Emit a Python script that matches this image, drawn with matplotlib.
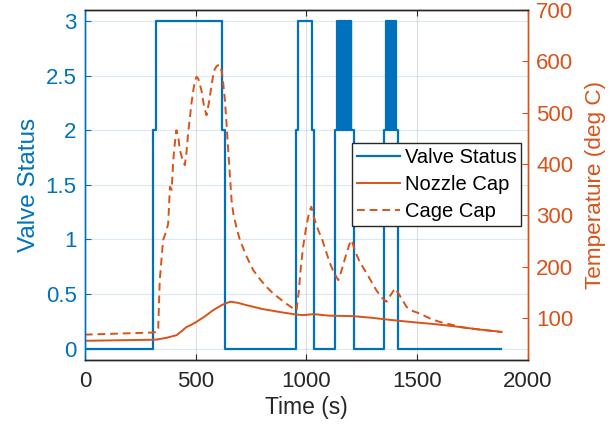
import numpy as np
import matplotlib
matplotlib.use("Agg")
import matplotlib.pyplot as plt

plt.rcParams['font.family'] = ['Liberation Sans', 'DejaVu Sans']

# valve status change points (steps-post)
valve_t = [0, 308, 322, 621, 632,
           952, 963, 1023, 1034,
           1129,
           1139, 1142, 1145, 1148, 1151, 1154, 1157, 1160, 1163, 1166, 1169,
           1172, 1175, 1178, 1181, 1184, 1187, 1190, 1193, 1196, 1199, 1202,
           1204, 1214,
           1350,
           1359, 1362, 1365, 1368, 1371, 1374, 1377, 1380, 1383, 1386, 1389,
           1392, 1395, 1398, 1401, 1404,
           1407, 1414, 1880]
valve_v = [0, 2, 3, 2, 0,
           2, 3, 2, 0,
           2,
           3, 2, 3, 2, 3, 2, 3, 2, 3, 2, 3,
           2, 3, 2, 3, 2, 3, 2, 3, 2, 3, 2,
           2, 0,
           2,
           3, 2, 3, 2, 3, 2, 3, 2, 3, 2, 3,
           2, 3, 2, 3, 2,
           2, 0, 0]

# nozzle cap temperature (deg C)
nozzle_t = [0, 150, 300, 325, 370, 414, 440, 459, 480, 504, 540, 579, 620,
            655, 690, 730, 800, 880, 955, 990, 1031, 1100, 1211, 1290, 1362,
            1440, 1512, 1590, 1663, 1780, 1881]
nozzle_v = [56, 57, 58, 58.5, 62, 67, 76, 83, 87, 93, 103, 115.6, 126,
            132, 130, 125.3, 118, 112, 107, 106, 108, 105, 104, 101, 97.5,
            94, 91, 88, 84.4, 78, 73.4]

# cage cap temperature (deg C)
cage_t = [0, 150, 300, 325, 331, 338, 353, 368, 376, 384, 392, 399, 406, 413,
          421, 429, 440, 451, 458, 466, 474, 481, 490, 497, 504, 512, 519, 526,
          537, 549, 560, 571, 580, 587, 598, 609, 618, 625, 632, 640, 647, 655,
          662, 670, 685, 700, 730, 760, 790, 820, 850, 880, 910, 940, 955, 965,
          975, 985, 1000, 1012, 1022, 1035, 1050, 1072, 1090, 1106, 1125, 1144,
          1160, 1180, 1195, 1204, 1220, 1240, 1271, 1295, 1316, 1340, 1362,
          1380, 1400, 1420, 1452, 1480, 1512, 1560, 1600, 1663, 1720, 1800, 1881]
cage_v = [68, 70, 72, 73, 80, 174, 252, 270, 284, 356, 350, 408, 440, 466,
          455, 427, 410, 398, 420, 460, 490, 518, 545, 562, 570, 566, 555, 544,
          515, 495, 520, 551, 575, 586, 592, 593, 580, 555, 525, 475, 427, 375,
          330, 304, 275, 252, 220, 193.5, 176, 161, 148, 138, 128, 119, 115, 150,
          200, 239, 280, 305, 317, 295, 275, 252, 228, 207, 188, 174,
          195, 225, 245, 252, 230, 210, 188, 170, 154, 140, 132,
          145, 158, 145, 122, 114, 109, 99, 93, 86.4, 81, 77, 73]

blue = '#0072BD'
orange = '#D95319'
dark = '#262626'

fig = plt.figure(figsize=(6.15, 4.26), dpi=100)
ax1 = fig.add_axes([0.138, 0.156, 0.7205, 0.8205])
ax2 = ax1.twinx()

l1, = ax1.plot(valve_t, valve_v, color=blue, lw=1.6, drawstyle='steps-post',
               label='Valve Status')
l2, = ax2.plot(nozzle_t, nozzle_v, color=orange, lw=1.4, label='Nozzle Cap')
l3, = ax2.plot(cage_t, cage_v, color=orange, lw=1.4, ls=(0, (4, 2.5)),
               label='Cage Cap')

ax1.set_xlim(0, 2000)
ax1.set_ylim(-0.1, 3.1)
ax2.set_ylim(19.5, 700)
ax1.set_xticks([0, 500, 1000, 1500, 2000])
ax1.set_yticks([0, 0.5, 1, 1.5, 2, 2.5, 3])
ax1.set_yticklabels(['0', '0.5', '1', '1.5', '2', '2.5', '3'])
ax2.set_yticks([100, 200, 300, 400, 500, 600, 700])

# grids: gray vertical, light blue horizontal
ax1.set_axisbelow(True)
ax1.grid(axis='x', color=dark, alpha=0.15, lw=0.8)
ax1.grid(axis='y', color=blue, alpha=0.15, lw=0.8)

for ax in (ax1, ax2):
    ax.spines['top'].set_color(dark)
    ax.spines['bottom'].set_color(dark)
    ax.spines['left'].set_color(blue)
    ax.spines['right'].set_color(orange)
    for s in ax.spines.values():
        s.set_linewidth(1.0)

ax1.tick_params(axis='x', direction='in', colors=dark, labelsize=16,
                top=True, length=4, pad=8)
ax1.tick_params(axis='y', direction='in', colors=blue, labelsize=16, length=4,
                pad=6)
ax2.tick_params(axis='y', direction='in', colors=orange, labelsize=16, length=4,
                pad=6)

ax1.set_xlabel('Time (s)', fontsize=16.5, color=dark, labelpad=3)
ax1.set_ylabel('Valve Status', fontsize=17.5, color=blue, labelpad=4)
ax2.set_ylabel('Temperature (deg C)', fontsize=16.2, color=orange, labelpad=8)

leg = ax2.legend(handles=[l1, l2, l3], loc='center right',
                 bbox_to_anchor=(0.985, 0.50), fontsize=14.5, frameon=True,
                 fancybox=False, framealpha=1, edgecolor=dark,
                 handlelength=2.1, labelspacing=0.4, borderpad=0.25,
                 handletextpad=0.25, borderaxespad=0)
leg.get_frame().set_linewidth(1.0)

fig.savefig('out.png', dpi=100)
